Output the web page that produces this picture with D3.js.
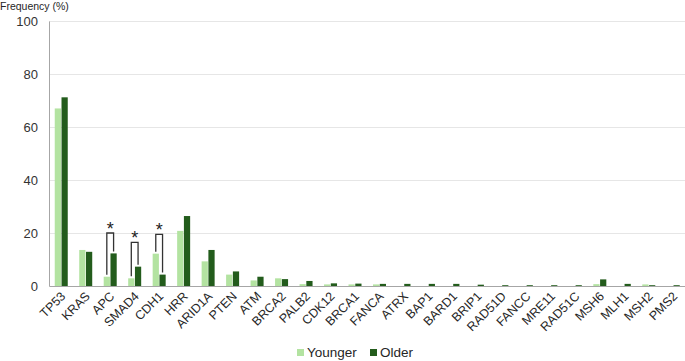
<!DOCTYPE html>
<html>
<head>
<meta charset="utf-8">
<script src="https://cdn.jsdelivr.net/npm/d3@7"></script>
<style>
  html, body { margin: 0; padding: 0; background: #fff; }
  svg { display: block; font-family: "Liberation Sans", Arial, sans-serif; }
</style>
</head>
<body>
<svg id="chart"></svg>
<script>
// data
const genes = ["TP53", "KRAS", "APC", "SMAD4", "CDH1", "HRR", "ARID1A", "PTEN", "ATM", "BRCA2",
  "PALB2", "CDK12", "BRCA1", "FANCA", "ATRX", "BAP1", "BARD1", "BRIP1", "RAD51D", "FANCC",
  "MRE11", "RAD51C", "MSH6", "MLH1", "MSH2", "PMS2"];
const younger = [67.0, 13.6, 3.5, 2.9, 12.2, 20.8, 9.3, 4.3, 2.1, 2.9,
  0.7, 0.6, 0.6, 0.6, 0, 0, 0, 0, 0, 0,
  0, 0, 0.7, 0, 0.6, 0];
const older = [71.2, 12.9, 12.3, 7.3, 4.3, 26.4, 13.6, 5.5, 3.5, 2.6,
  1.9, 1.0, 0.9, 0.8, 0.8, 0.8, 0.8, 0.5, 0.3, 0.3,
  0.3, 0.3, 2.5, 0.8, 0.3, 0.3];
const seriesNames = ["Younger", "Older"];
const yTicks = [0, 20, 40, 60, 80, 100];
// significance brackets (gene, bracket level in %)
const sigGenes = ["APC", "SMAD4", "CDH1"];
const sigLevels = [20, 16.5, 19.5];

const config = {
  width: 685, height: 361,
  margin: { left: 49, right: 0, top: 21, bottom: 75 },
  colors: ["#b3e3a1", "#235c1c"]
};

const svg = d3.select("#chart")
  .attr("width", config.width)
  .attr("height", config.height);

const innerH = config.height - config.margin.top - config.margin.bottom;

const xScale = d3.scaleBand()
  .domain(genes)
  .range([config.margin.left, 685.5])
  .padding(0);

const bw = xScale.bandwidth();
const xSub = d3.scaleBand()
  .domain(seriesNames)
  .range([bw / 2 - 6.5, bw / 2 + 6.5])
  .paddingInner(0.08);

const yScale = d3.scaleLinear()
  .domain([0, 100])
  .range([config.margin.top + innerH, config.margin.top]);

// gridlines
svg.append("g")
  .selectAll("line")
  .data(yTicks.filter(d => d > 0))
  .join("line")
  .attr("x1", config.margin.left)
  .attr("x2", config.width)
  .attr("y1", d => Math.round(yScale(d)) + 0.5)
  .attr("y2", d => Math.round(yScale(d)) + 0.5)
  .attr("stroke", "#e6e6e6")
  .attr("stroke-width", 1);

// y axis
const axisY = d3.axisLeft(yScale).tickValues(yTicks).tickSize(0).tickPadding(11);
const gy = svg.append("g")
  .attr("transform", `translate(${config.margin.left},0)`)
  .call(axisY);
gy.select(".domain").attr("stroke", "#a6a6a6");
gy.selectAll("text")
  .attr("font-size", "13px")
  .attr("fill", "#333")
  .attr("font-family", "Liberation Sans, Arial, sans-serif");

// bars
const rows = genes.map((g, i) => ({ gene: g, values: [younger[i], older[i]] }));
svg.append("g")
  .selectAll("g")
  .data(rows)
  .join("g")
  .attr("transform", d => `translate(${xScale(d.gene)},0)`)
  .selectAll("rect")
  .data(d => d.values.map((v, j) => ({ key: seriesNames[j], value: v, j: j })))
  .join("rect")
  .attr("x", d => xSub(d.key))
  .attr("width", xSub.bandwidth())
  .attr("y", d => yScale(d.value))
  .attr("height", d => yScale(0) - yScale(d.value))
  .attr("fill", d => config.colors[d.j]);

// x axis
const axisX = d3.axisBottom(xScale).tickSize(0).tickPadding(0);
const gx = svg.append("g")
  .attr("transform", `translate(0,${yScale(0)})`)
  .call(axisX);
gx.select(".domain").attr("stroke", "#a6a6a6").attr("stroke-width", 1.2);
gx.selectAll("text")
  .attr("font-size", "12.5px")
  .attr("fill", "#262626")
  .attr("font-family", "Liberation Sans, Arial, sans-serif")
  .attr("text-anchor", "end")
  .attr("dy", "0")
  .attr("transform", "translate(5,11) rotate(-45)");

// significance brackets
sigGenes.forEach((g, k) => {
  const i = genes.indexOf(g);
  const x0 = xScale(g);
  const xa = x0 + xSub("Younger") + xSub.bandwidth() / 2;
  const xb = x0 + xSub("Older") + xSub.bandwidth() / 2;
  const top = yScale(sigLevels[k]);
  const ya = yScale(younger[i]) - 2;
  const yb = yScale(older[i]) - 2;
  svg.append("path")
    .attr("d", `M${xa},${ya}V${top}H${xb}V${yb}`)
    .attr("fill", "none")
    .attr("stroke", "#333")
    .attr("stroke-width", 1.3);
  svg.append("text")
    .attr("x", (xa + xb) / 2)
    .attr("y", top + 2)
    .attr("text-anchor", "middle")
    .attr("font-size", "18px")
    .attr("fill", "#222")
    .text("*");
});

// y label
svg.append("text")
  .attr("x", 0)
  .attr("y", 10)
  .attr("font-size", "10.5px")
  .attr("fill", "#262626")
  .text("Frequency (%)");

// legend
const legend = svg.append("g").attr("transform", "translate(297,349)");
const legX = [0, 73];
seriesNames.forEach((s, j) => {
  const lg = legend.append("g").attr("transform", `translate(${legX[j]},0)`);
  lg.append("rect")
    .attr("width", 7).attr("height", 7)
    .attr("fill", config.colors[j]);
  lg.append("text")
    .attr("x", 10)
    .attr("y", 8)
    .attr("font-size", "13.5px")
    .attr("fill", "#262626")
    .text(s);
});
</script>
</body>
</html>
